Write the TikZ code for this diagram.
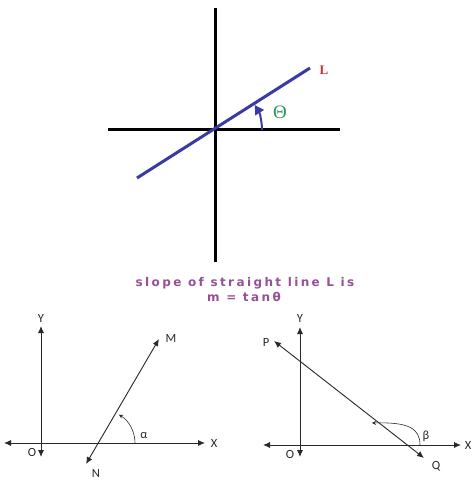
\documentclass[tikz,border=0pt]{standalone}
\usepackage{fontspec}
\setmainfont{Carlito}
\newfontfamily\purplefont[LetterSpace=20]{DejaVu Sans Bold}
\newfontfamily\serifL{Liberation Serif}
\usetikzlibrary{arrows.meta}
\definecolor{lineblue}{RGB}{58,58,165}
\definecolor{thetagreen}{RGB}{40,150,90}
\definecolor{lred}{RGB}{200,50,50}
\definecolor{slopepurple}{RGB}{150,80,150}
\definecolor{axgray}{RGB}{40,40,40}
\begin{document}
\begin{tikzpicture}[x=1pt,y=-1pt,
  bigaxis/.style={line width=3pt,black},
  axisarrow/.style={line width=0.9pt,axgray,{Latex[length=7pt,width=6pt]}-{Latex[length=7pt,width=6pt]}},
  lbl/.style={font=\fontsize{12.5}{13}\selectfont,text=axgray,inner sep=1pt},
  slopetxt/.style={text=slopepurple,font=\purplefont\fontsize{12}{14}\selectfont,inner sep=0pt}]
\useasboundingbox (0,0) rectangle (472,481);
% ---- top diagram ----
\coordinate (vt) at (215,8);
\coordinate (vb) at (215,262);
\coordinate (hl) at (108,130);
\coordinate (hr) at (340,130);
\coordinate (la) at (137,178);
\coordinate (lb) at (310,68);
\coordinate (th1) at (262,130);
\draw[bigaxis] (vt) -- (vb);
\draw[bigaxis] (hl) -- (hr);
\draw[line width=3pt,lineblue] (la) -- (lb);
\draw[line width=2pt,lineblue,-{Triangle[length=9pt,width=10pt]}] (th1) arc[start angle=0,end angle=-32,radius=47];
\node[text=thetagreen,font=\serifL\fontsize{19}{20}\selectfont,inner sep=0pt] (theta) at (280,112) {Θ};
\node[text=lred,font=\serifL\bfseries\fontsize{13}{13}\selectfont] (Llab) at (324,70) {L};
\node[slopetxt] (slope1) at (245,283) {slope of straight line L is};
\node[slopetxt] (slope2) at (244,297) {m = tanθ};
% ---- bottom left ----
\coordinate (y1t) at (41,326);
\coordinate (y1b) at (41,457);
\coordinate (x1l) at (4,443);
\coordinate (x1r) at (205,443);
\coordinate (n1) at (86,464);
\coordinate (m1) at (159,339);
\draw[axisarrow] (y1b) -- (y1t);
\draw[axisarrow] (x1l) -- (x1r);
\draw[axisarrow] (n1) -- (m1);
\draw[line width=0.6pt,axgray,-{Stealth[length=4pt,width=4pt]}] (135,443) arc[start angle=0,end angle=-59,radius=33];
\node[lbl] (Y1) at (41,318) {Y};
\node[lbl] (M1) at (171,338) {M};
\node[lbl] (al) at (144,436) {α};
\node[lbl] (X1) at (214,443) {X};
\node[lbl] (O1) at (32,452) {O};
\node[lbl] (N1) at (96,473) {N};
% ---- bottom right ----
\coordinate (y2t) at (300,327);
\coordinate (y2b) at (300,457);
\coordinate (x2l) at (263,445);
\coordinate (x2r) at (461,445);
\coordinate (p2) at (274,341);
\coordinate (q2) at (424,458);
\coordinate (b1) at (420,445);
\coordinate (b2) at (372,423);
\draw[axisarrow] (y2b) -- (y2t);
\draw[axisarrow] (x2l) -- (x2r);
\draw[axisarrow] (q2) -- (p2);
\draw[line width=0.6pt,axgray,-{Stealth[length=4pt,width=4pt]}] (b1) .. controls (420,428) and (408,422) .. (b2);
\node[lbl] (Y2) at (300,318) {Y};
\node[lbl] (P2) at (266,342) {P};
\node[lbl] (be) at (426,436) {β};
\node[lbl] (X2) at (468,445) {X};
\node[lbl] (O2) at (290,454) {O};
\node[lbl] (Q2) at (436,466) {Q};
\end{tikzpicture}
\end{document}
